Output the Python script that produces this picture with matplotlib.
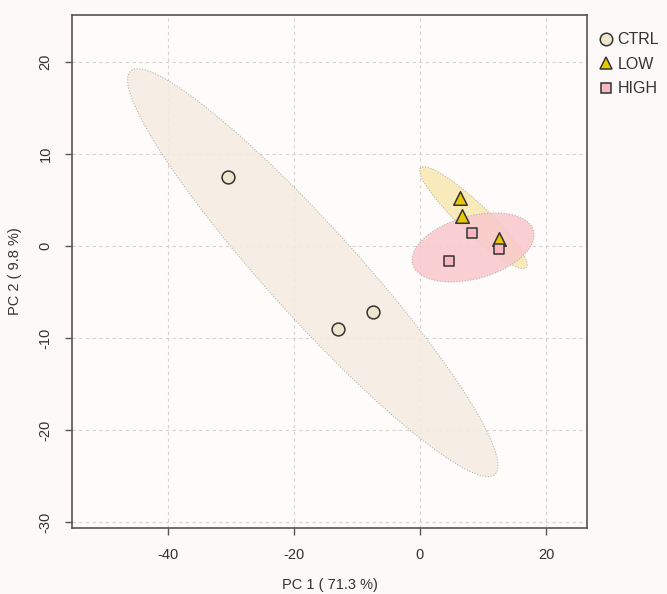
import numpy as np
import matplotlib.pyplot as plt
from matplotlib.patches import Polygon
from matplotlib.lines import Line2D

plt.rcParams['font.family'] = ['Liberation Sans', 'DejaVu Sans']
plt.rcParams['axes.unicode_minus'] = False

# PCA scores
groups = ['CTRL', 'LOW', 'HIGH']
ctrl_x = [-30.5, -13.0, -7.5]
ctrl_y = [7.5, -9.0, -7.2]
low_x = [6.35, 6.6, 12.5]
low_y = [5.2, 3.3, 0.7]
high_x = [8.2, 4.6, 12.5]
high_y = [1.45, -1.6, -0.35]

markers = ['o', '^', 's']
point_cols = ['#ede6cc', '#e8c900', '#f7b8c2']
ell_cols = ['#f5ece0', '#f7e7b0', '#fac8cd']

fig = plt.figure(figsize=(6.67, 5.94), dpi=100, facecolor='#fcf9f8')
ax = fig.add_axes([0.108, 0.111, 0.772, 0.864])
ax.set_facecolor('#fefcfb')


# 95% confidence ellipse from the covariance of each group
def conf_ellipse(x, y, level_t=np.sqrt(5.991), n=100):
    pts = np.column_stack([x, y])
    c = np.cov(pts.T)
    vals, vecs = np.linalg.eigh(c)
    t = np.linspace(0, 2 * np.pi, n)
    circ = np.column_stack([np.cos(t), np.sin(t)]) * np.sqrt(vals) * level_t
    return circ @ vecs.T + pts.mean(axis=0)


data = [(ctrl_x, ctrl_y), (low_x, low_y), (high_x, high_y)]
for (x, y), ec in zip(data, ell_cols):
    poly = Polygon(conf_ellipse(x, y), closed=True, facecolor=ec, alpha=0.85,
                   edgecolor='#b0aaa5', linestyle=(0, (1, 1.5)), linewidth=0.8,
                   zorder=1)
    ax.add_patch(poly)

sizes = [85, 95, 50]
for (x, y), m, pc, sz in zip(data, markers, point_cols, sizes):
    ax.scatter(x, y, marker=m, s=sz, facecolor=pc,
               edgecolor='#333333', linewidth=1.1, zorder=3)

ax.set_xlim(-55.2, 26.5)
ax.set_ylim(-30.65, 25.1)
ax.set_xticks([-40, -20, 0, 20])
ax.set_yticks([-30, -20, -10, 0, 10, 20])
ax.grid(True, color='#d9d2cf', linestyle=(0, (3, 3)), linewidth=0.8)
ax.set_axisbelow(True)
for s in ax.spines.values():
    s.set_color('#555555')
    s.set_linewidth(1.2)
ax.tick_params(colors='#555555', labelcolor='#333333', labelsize=10.5,
               length=5, width=1.0, pad=9)
for lab in ax.get_yticklabels():
    lab.set_rotation(90)
    lab.set_va('center')
ax.set_xlabel('PC 1 ( 71.3 %)', fontsize=10.5, color='#333333', labelpad=12)
ax.set_ylabel('PC 2 ( 9.8 %)', fontsize=10.5, color='#333333', labelpad=12)

handles = [Line2D([], [], marker=m, linestyle='none', markersize=9 if m != 's' else 7,
                  markerfacecolor=pc, markeredgecolor='#333333', markeredgewidth=1.1)
           for m, pc in zip(markers, point_cols)]
fig.legend(handles, groups, loc='upper left', bbox_to_anchor=(0.872, 0.97),
           frameon=False, fontsize=11.5, handletextpad=0.15, labelspacing=0.6,
           handlelength=1.2, labelcolor='#333333')

fig.savefig('out.png', dpi=100, facecolor=fig.get_facecolor())
